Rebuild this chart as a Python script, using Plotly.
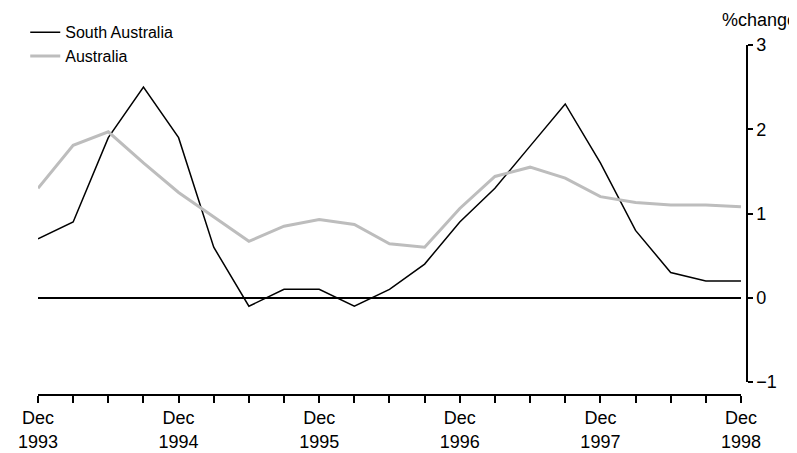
import plotly.graph_objects as go

quarters = ["Dec 1993", "Mar 1994", "Jun 1994", "Sep 1994", "Dec 1994", "Mar 1995",
            "Jun 1995", "Sep 1995", "Dec 1995", "Mar 1996", "Jun 1996", "Sep 1996",
            "Dec 1996", "Mar 1997", "Jun 1997", "Sep 1997", "Dec 1997", "Mar 1998",
            "Jun 1998", "Sep 1998", "Dec 1998"]
south_australia = [0.7, 0.9, 1.9, 2.5, 1.9, 0.6, -0.1, 0.1, 0.1, -0.1, 0.1, 0.4,
                   0.9, 1.3, 1.8, 2.3, 1.6, 0.8, 0.3, 0.2, 0.2]
australia = [1.3, 1.81, 1.97, 1.6, 1.25, 0.96, 0.67, 0.85, 0.93, 0.87, 0.64, 0.6,
             1.06, 1.44, 1.55, 1.42, 1.2, 1.13, 1.1, 1.1, 1.08]
tick_text = [q.replace(" ", "<br>") if q.startswith("Dec") else "" for q in quarters]
y_ticks = [-1, 0, 1, 2, 3]

font = "Liberation Sans, Arial, sans-serif"

fig = go.Figure()
fig.add_trace(go.Scatter(x=quarters, y=south_australia, mode="lines", name="South Australia",
                         line=dict(color="black", width=1.5)))
fig.add_trace(go.Scatter(x=quarters, y=australia, mode="lines", name="Australia",
                         line=dict(color="#bdbdbd", width=3)))

# page body has an 8px margin, so the figure is sized to fit the window
fig.update_layout(
    width=789, height=445,
    margin=dict(l=30, r=50, t=37, b=58, autoexpand=False),
    paper_bgcolor="white", plot_bgcolor="white",
    font=dict(family=font, size=18, color="black"),
    showlegend=True,
    legend=dict(x=-0.018, y=1.085, xanchor="left", yanchor="top",
                font=dict(size=16), bgcolor="rgba(0,0,0,0)",
                tracegroupgap=0, itemwidth=30),
    xaxis=dict(
        domain=[0, 0.9915], range=[0, 20], type="category",
        tickmode="array", tickvals=quarters, ticktext=tick_text,
        ticks="outside", ticklen=7, tickcolor="black", tickwidth=1.5,
        showline=True, linecolor="black", linewidth=1.5,
        showgrid=False, zeroline=False,
        anchor="free", position=0,
    ),
    yaxis=dict(
        domain=[0.037, 1], range=[-1, 3],
        tickvals=y_ticks, ticktext=["\u22121", "0", "1", "2", "3"],
        side="right", anchor="free", position=1,
        ticks="outside", ticklen=5, tickcolor="black", tickwidth=1.5,
        showline=True, linecolor="black", linewidth=1.5,
        showgrid=False, zeroline=True, zerolinecolor="black", zerolinewidth=1.5,
    ),
    annotations=[dict(text="%change", xref="paper", yref="paper", x=1.017, y=1.071,
                      xanchor="center", yanchor="middle", showarrow=False,
                      font=dict(size=18))],
)

fig.write_html("out.html")
